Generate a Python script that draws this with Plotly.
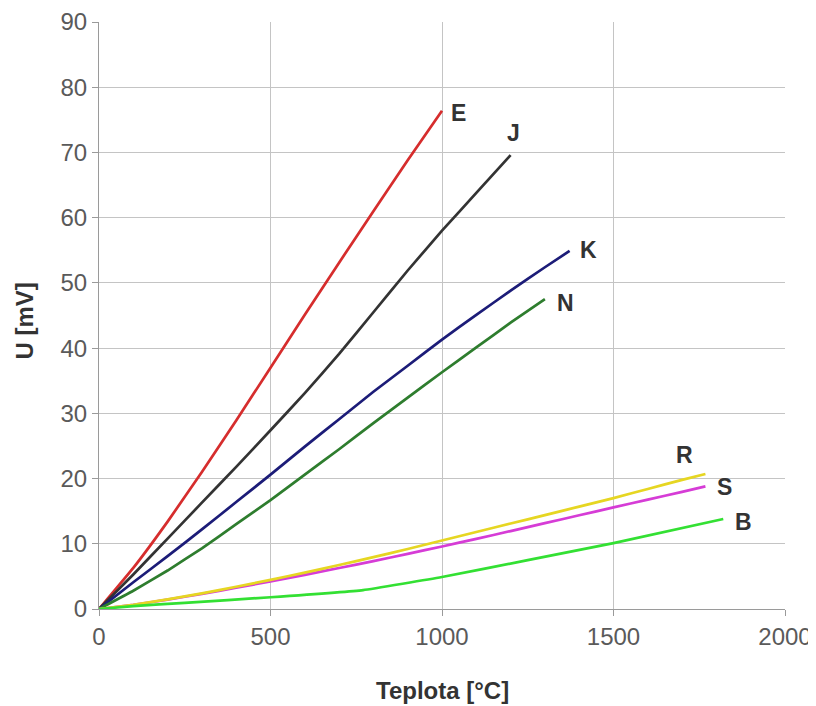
import plotly.graph_objects as go

# Data (temperature in °C, voltage in mV)
E_t = [0, 100, 200, 300, 400, 500, 600, 700, 800, 900, 1000]
E_u = [0, 6.3, 13.4, 21.0, 28.9, 37.0, 45.1, 53.1, 61.0, 68.8, 76.4]

J_t = [0, 100, 200, 300, 400, 500, 600, 700, 800, 900, 1000, 1100, 1200]
J_u = [0, 5.3, 10.8, 16.3, 21.8, 27.4, 33.1, 39.1, 45.5, 51.9, 58.0, 63.8, 69.6]

K_t = [0, 100, 200, 300, 400, 500, 600, 700, 800, 900, 1000, 1100, 1200, 1300, 1372]
K_u = [0, 4.1, 8.1, 12.2, 16.4, 20.6, 24.9, 29.1, 33.3, 37.3, 41.3, 45.1, 48.8, 52.4, 54.9]

N_t = [0, 100, 200, 300, 400, 500, 600, 700, 800, 900, 1000, 1100, 1200, 1300]
N_u = [0, 2.8, 5.9, 9.3, 13.0, 16.7, 20.6, 24.5, 28.5, 32.4, 36.3, 40.1, 43.9, 47.5]

S_t = [0, 100, 200, 300, 400, 500, 600, 700, 800, 900, 1000, 1100, 1200, 1300, 1400, 1500, 1600, 1700, 1768]
S_u = [0, 0.65, 1.44, 2.32, 3.26, 4.23, 5.24, 6.28, 7.35, 8.45, 9.59, 10.76, 11.95, 13.16, 14.37, 15.58, 16.78, 17.95, 18.8]

R_t = [0, 100, 200, 300, 400, 500, 600, 700, 800, 900, 1000, 1100, 1200, 1300, 1400, 1500, 1600, 1700, 1768]
R_u = [0, 0.65, 1.47, 2.40, 3.41, 4.47, 5.58, 6.74, 7.95, 9.2, 10.5, 11.8, 13.1, 14.4, 15.7, 17.0, 18.4, 19.8, 20.7]

B_t = [0, 100, 250, 500, 770, 1000, 1250, 1500, 1820]
B_u = [0, 0.45, 0.95, 1.8, 2.9, 4.9, 7.5, 10.1, 13.8]

series = [
    ("E", E_t, E_u, "#d62d2d"),
    ("J", J_t, J_u, "#333333"),
    ("K", K_t, K_u, "#1c1c78"),
    ("N", N_t, N_u, "#2e7d2e"),
    ("S", S_t, S_u, "#d63cd6"),
    ("R", R_t, R_u, "#e6d622"),
    ("B", B_t, B_u, "#33e033"),
]

# label positions (data coords)
label_names = ["E", "J", "K", "N", "R", "S", "B"]
label_x = [1047, 1207, 1428, 1359, 1706, 1825, 1880]
label_y = [76.1, 73.0, 55.1, 46.9, 23.6, 18.7, 13.3]

fig = go.Figure()
for name, t, u, c in series:
    fig.add_trace(go.Scatter(x=t, y=u, mode="lines", name=name,
                             line=dict(color=c, width=2.7, shape="spline", smoothing=0.3),
                             showlegend=False, hoverinfo="skip"))

for n, x, y in zip(label_names, label_x, label_y):
    fig.add_annotation(x=x, y=y, text="<b>" + n + "</b>", showarrow=False,
                       font=dict(family="Liberation Sans", size=23, color="#333333"),
                       xref="x", yref="y")

tickfont = dict(family="Liberation Sans", size=24, color="#5a5a5a")
titlefont = dict(family="Liberation Sans", size=24, color="#333333")

fig.add_annotation(text="<b>Teplota [°C]</b>", xref="paper", yref="paper",
                   x=0.5, y=-0.138, showarrow=False, font=titlefont,
                   xanchor="center", yanchor="middle")
fig.add_annotation(text="<b>U [mV]</b>", xref="paper", yref="paper",
                   x=-0.109, y=0.49, showarrow=False, font=titlefont, textangle=-90,
                   xanchor="center", yanchor="middle")

fig.update_xaxes(range=[0, 2000], tickvals=[0, 500, 1000, 1500, 2000],
                 showgrid=True, gridcolor="#c4c4c4", gridwidth=1,
                 showline=True, linecolor="#9a9a9a", linewidth=1,
                 ticks="outside", ticklen=6, tickcolor="#9a9a9a",
                 tickfont=tickfont, zeroline=False, mirror=False, automargin=False)
fig.update_yaxes(range=[0, 90], tickvals=list(range(0, 91, 10)),
                 showgrid=True, gridcolor="#c4c4c4", gridwidth=1,
                 showline=True, linecolor="#9a9a9a", linewidth=1,
                 ticks="outside", ticklen=6, tickcolor="#9a9a9a",
                 tickfont=tickfont, zeroline=False, automargin=False)

fig.update_layout(width=808, height=698,
                  margin=dict(l=91, r=31, t=14, b=97, autoexpand=False),
                  plot_bgcolor="white", paper_bgcolor="white")

fig.write_html("out.html")
